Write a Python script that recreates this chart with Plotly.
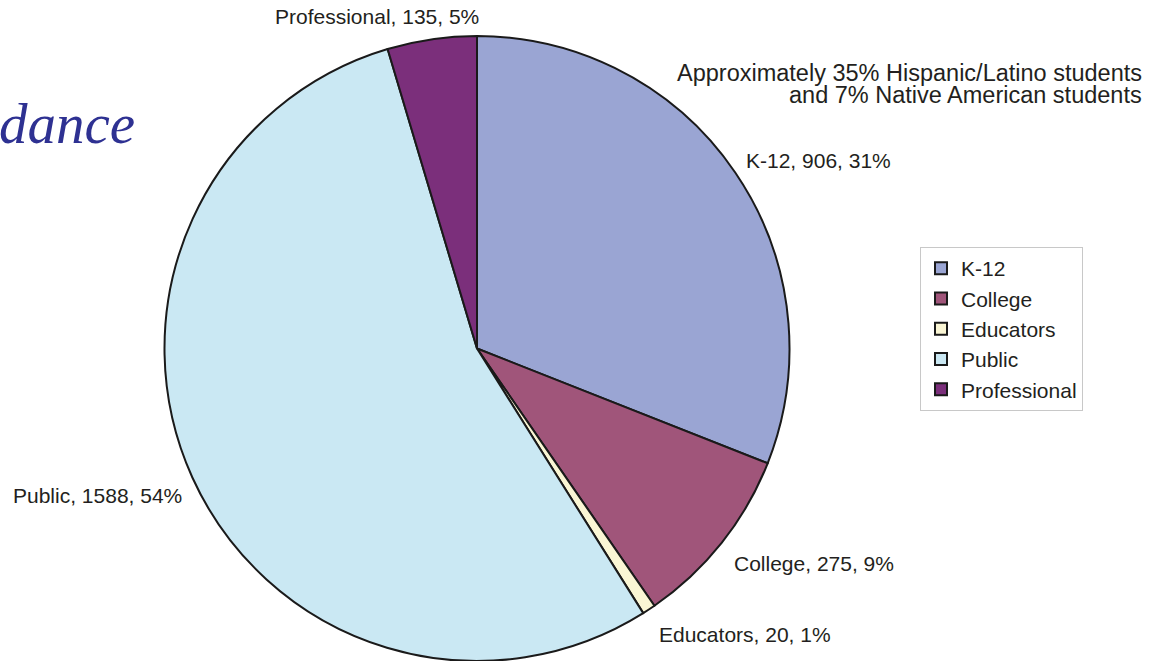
import plotly.graph_objects as go

categories = ["K-12", "College", "Educators", "Public", "Professional"]
values = [906, 275, 20, 1588, 135]
percents = [31, 9, 1, 54, 5]
colors = ["#9AA5D3", "#A0557A", "#FAF6D4", "#CAE8F3", "#7B2F7B"]
note_lines = ["Approximately 35% Hispanic/Latino students", "and 7% Native American students"]

W, H = 1165, 661
SANS = "Liberation Sans, Arial, Helvetica, sans-serif"

fig = go.Figure()
fig.add_trace(go.Pie(
    labels=categories,
    values=values,
    sort=False,
    direction="clockwise",
    rotation=0,
    marker=dict(colors=colors, line=dict(color="#1a1a1a", width=2)),
    textinfo="none",
    hoverinfo="label+value+percent",
    domain=dict(x=[164 / W, 790 / W], y=[0, 625 / H]),
))

# label positions (pixels from top-left)
label_pos = {
    "K-12": (819, 160),
    "College": (814, 563),
    "Educators": (745, 634),
    "Public": (97, 495),
    "Professional": (377, 16),
}
annotations = []
for c, v, p in zip(categories, values, percents):
    px, py = label_pos[c]
    annotations.append(dict(
        text=f"{c}, {v}, {p}%", x=px / W, y=1 - py / H, xref="paper", yref="paper",
        showarrow=False, xanchor="center", yanchor="middle",
        font=dict(family=SANS, size=21, color="#231F20"),
    ))

for line, ly in zip(note_lines, [73, 95]):
    annotations.append(dict(
        text=line, x=1144 / W, y=1 - ly / H, xref="paper", yref="paper", showarrow=False,
        xanchor="right", yanchor="middle", align="right",
        font=dict(family=SANS, size=23.5, color="#231F20"),
    ))

annotations.append(dict(
    text="<i>dance</i>", x=-3 / W, y=1 - 123 / H, xref="paper", yref="paper",
    showarrow=False, xanchor="left", yanchor="middle",
    font=dict(family="Liberation Serif, Times New Roman, serif", size=57, color="#2E3192"),
))

fig.update_layout(
    width=W, height=H,
    margin=dict(l=0, r=0, t=0, b=0),
    paper_bgcolor="white",
    plot_bgcolor="white",
    showlegend=True,
    legend=dict(
        x=920 / W, y=1 - 247 / H, xanchor="left", yanchor="top",
        bordercolor="#c8c8c8", borderwidth=1,
        font=dict(family=SANS, size=21, color="#231F20"),
        itemwidth=30, tracegroupgap=0,
    ),
    annotations=annotations,
)

fig.write_html("out.html", config={"displayModeBar": False},
               post_script="document.body.style.margin='0';")
